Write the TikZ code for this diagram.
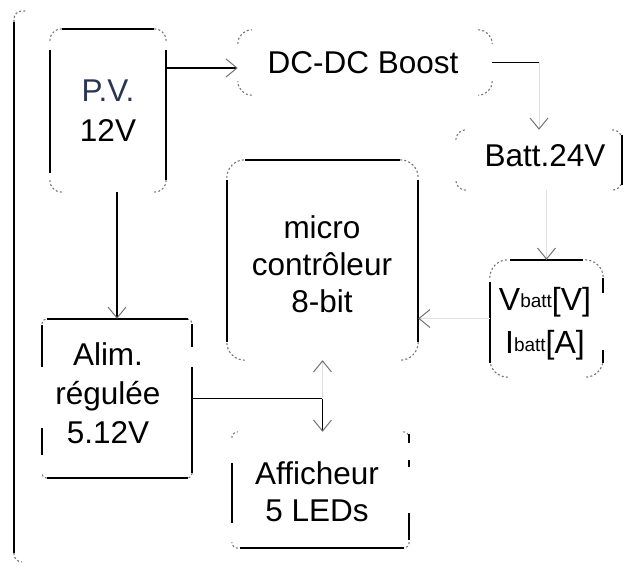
\documentclass[tikz,border=0pt]{standalone}
\usepackage{fontspec}
\setmainfont{Liberation Sans}
\usetikzlibrary{arrows.meta}
\definecolor{pvblue}{HTML}{2A3552}
\newcommand\boxcorners[2]{%
 \draw[crn,rounded corners=#2] ([yshift=-#2]#1.north west) -- (#1.north west) -- ([xshift=#2]#1.north west);
 \draw[crn,rounded corners=#2] ([xshift=-#2]#1.north east) -- (#1.north east) -- ([yshift=-#2]#1.north east);
 \draw[crn,rounded corners=#2] ([yshift=#2]#1.south east) -- (#1.south east) -- ([xshift=-#2]#1.south east);
 \draw[crn,rounded corners=#2] ([xshift=#2]#1.south west) -- (#1.south west) -- ([yshift=#2]#1.south west);}
\begin{document}
\begin{tikzpicture}[x=1pt,y=-1pt,
  box/.style={draw=none,inner sep=0pt,rectangle},
  txt/.style={font=\fontsize{31.5}{38}\selectfont,align=center,inner sep=0pt},
  side/.style={draw=black,line width=1.4pt},
  crn/.style={draw=black!55,line width=1.1pt,dash pattern=on 2pt off 2.2pt},
  tip/.style={-{Straight Barb[length=11pt,width=18pt,line width=1pt,color=black!55]}},
  wire/.style={draw=black,line width=1.3pt},
  ghost/.style={draw=black!12,line width=0.7pt}]
\useasboundingbox (0,0) rectangle (627,567);

% outer frame (left side only)
\draw[side] (14,22) -- (14,553);
\draw[crn,rounded corners=8pt] (14,22) -- (14,11) -- (25,11);
\draw[crn,rounded corners=8pt] (14,553) -- (14,562) -- (22,562);

% box nodes
\node[box,minimum width=116pt,minimum height=163pt] (pv) at (108,110.5) {};
\node[box,minimum width=254pt,minimum height=65pt] (boost) at (365,62.5) {};
\node[box,minimum width=166pt,minimum height=60pt] (batt) at (539,160) {};
\node[box,minimum width=191pt,minimum height=200pt] (micro) at (322.5,260) {};
\node[box,minimum width=113pt,minimum height=117pt] (vb) at (546.5,318.5) {};
\node[box,minimum width=150pt,minimum height=159pt] (alim) at (117,398.5) {};
\node[box,minimum width=177pt,minimum height=116pt] (aff) at (320.5,490) {};

% corners
\boxcorners{pv}{12pt}
\boxcorners{boost}{14pt}
\boxcorners{batt}{10pt}
\boxcorners{micro}{18pt}
\boxcorners{vb}{18pt}
\boxcorners{alim}{5pt}
\boxcorners{aff}{6pt}

% visible sides
\draw[side] (62,29) -- (154,29);
\draw[side] (50,50) -- (50,173);
\draw[side] (166,50) -- (166,180);
\draw[side] (622,135) -- (622,185);
\draw[side] (245,160) -- (400,160);
\draw[side] (227,180) -- (227,342);
\draw[side] (418,180) -- (418,342);
\draw[side] (510,260) -- (583,260);
\draw[side] (490,282) -- (490,363);
\draw[side] (603,278) -- (603,293);
\draw[side] (603,350) -- (603,363);
\draw[side] (47,319) -- (188,319);
\draw[side] (47,478) -- (188,478);
\draw[side] (42,325) -- (42,367);
\draw[side] (42,428) -- (42,455);
\draw[side] (192,324) -- (192,347);
\draw[side] (192,367) -- (192,473);
\draw[side] (240,548) -- (404,548);
\draw[side] (232,463) -- (232,523);
\draw[side] (409,434) -- (409,443);
\draw[side] (409,460) -- (409,467);
\draw[side] (409,513) -- (409,540);

% texts
\node[txt,text=pvblue] (tpv) at (108,111) {P.V.\\[2pt]\textcolor{black}{12V}};
\node[txt] (tboost) at (363,62.5) {DC-DC Boost};
\node[txt] (tbatt) at (545,156) {Batt.24V};
\node[txt,font=\fontsize{31.5}{37}\selectfont] (tmicro) at (322,264) {micro\\contrôleur\\8-bit};
\node[txt,font=\fontsize{32}{43}\selectfont] (tvb) at (545,324) {V\raisebox{3pt}{\fontsize{19}{19}\selectfont batt}[V]\\I\raisebox{2pt}{\fontsize{19}{19}\selectfont batt}[A]};
\node[txt,font=\fontsize{31.5}{39}\selectfont] (talim) at (108,393) {Alim.\\régulée\\5.12V};
\node[txt,font=\fontsize{31.5}{37}\selectfont] (taff) at (317,492) {Afficheur\\5 LEDs};

% connectors
\coordinate (b1) at ([yshift=-5.5pt]boost.west);
\draw[wire,tip] (pv.east |- b1) -- (b1);
\coordinate (c1) at (boost.east -| batt.north);
\draw[wire] (boost.east) -- (c1);
\draw[ghost,tip] (c1) -- (batt.north);
\draw[ghost,tip] (vb.north |- batt.south) -- (vb.north);
\draw[ghost,tip] (vb.west) -- (micro.east |- vb.west);
\draw[wire,tip] (alim.north |- pv.south) -- (alim.north);
\coordinate (j) at (alim.east -| micro.south);
\draw[wire] (alim.east) -- (j);
\draw[wire,tip] (j) -- (j |- aff.north);
\draw[ghost,tip] (j) -- (micro.south);
\end{tikzpicture}
\end{document}
